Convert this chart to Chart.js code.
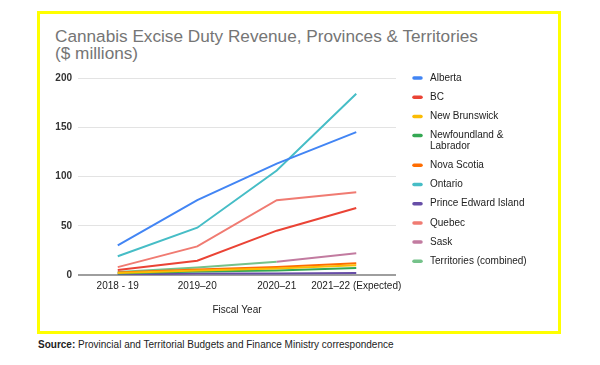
<!DOCTYPE html>
<html>
<head>
<meta charset="utf-8">
<script src="https://cdn.jsdelivr.net/npm/chart.js@4/dist/chart.umd.min.js"></script>
<style>
  html, body { margin: 0; padding: 0; background: #fff; }
  body { width: 600px; height: 365px; position: relative; overflow: hidden; font-family: "Liberation Sans", Arial, sans-serif; }
  #frame { position: absolute; left: 37px; top: 11px; width: 518px; height: 317px; border: 3px solid #ffff00; }
  #title { position: absolute; left: 55px; top: 28px; font-size: 17.2px; line-height: 17px; color: #757575; }
  #source { position: absolute; left: 38px; top: 339px; font-size: 10px; color: #222; }
  canvas { position: absolute; left: 0; top: 0; }
</style>
</head>
<body>
<div id="frame"></div>
<div id="title">Cannabis Excise Duty Revenue, Provinces &amp; Territories<br>($ millions)</div>
<div id="source"><b>Source:</b> Provincial and Territorial Budgets and Finance Ministry correspondence</div>
<canvas id="c" width="600" height="365"></canvas>
<script>
const categories = ["2018 - 19", "2019\u201320", "2020\u201321", "2021\u201322 (Expected)"];
const seriesNames = ["Alberta", "BC", "New Brunswick", ["Newfoundland &", "Labrador"], "Nova Scotia", "Ontario", "Prince Edward Island", "Quebec", "Sask", "Territories (combined)"];
const alberta = [30, 76, 113, 145];
const bc = [5, 14.5, 45, 68];
const newBrunswick = [2, 4.5, 6.5, 10];
const newfoundland = [1.5, 3.5, 4.5, 7];
const novaScotia = [2.5, 5.5, 8, 12];
const ontario = [19, 48, 106, 184];
const pei = [0.5, 1.5, 1.5, 2];
const quebec = [8, 29, 76, 84];
const sask = [null, null, 13.5, 22];
const territories = [3, 7.5, 13.5, null];
const yTicks = [0, 50, 100, 150, 200];
const colors = ["#4285f4", "#ea4335", "#fbbc04", "#34a853", "#ff6d01", "#46bdc6", "#674ea7", "#f07b72", "#c27ba0", "#75c28a"];
const seriesValues = [alberta, bc, newBrunswick, newfoundland, novaScotia, ontario, pei, quebec, sask, territories];

const datasets = seriesValues.map((vals, i) => ({
  label: Array.isArray(seriesNames[i]) ? seriesNames[i].join(' ') : seriesNames[i],
  data: vals,
  borderColor: colors[i],
  backgroundColor: colors[i],
  borderWidth: 2,
  pointRadius: 0,
  tension: 0,
  spanGaps: false
}));

const legendPlugin = {
  id: 'sideLegend',
  afterDraw(chart) {
    const ctx = chart.ctx;
    ctx.save();
    ctx.font = '10px "Liberation Sans", Arial, sans-serif';
    ctx.fillStyle = '#222';
    ctx.textBaseline = 'middle';
    ctx.textAlign = 'left';
    let y = 78;
    seriesNames.forEach((name, i) => {
      const lines = Array.isArray(name) ? name : [name];
      ctx.strokeStyle = colors[i];
      ctx.lineWidth = 3.5;
      ctx.lineCap = 'round';
      ctx.beginPath();
      ctx.moveTo(414, y);
      ctx.lineTo(421, y);
      ctx.stroke();
      lines.forEach((ln, k) => {
        ctx.fillText(ln, 430, y + k * 10.5);
      });
      y += 19.2 + (lines.length - 1) * 10.5;
    });
    ctx.restore();
  }
};

new Chart(document.getElementById('c'), {
  type: 'line',
  data: { labels: categories, datasets },
  options: {
    responsive: false,
    animation: false,
    devicePixelRatio: 1,
    layout: { padding: { left: 0, top: 78, right: 204, bottom: 0 } },
    plugins: { legend: { display: false }, tooltip: { enabled: false } },
    scales: {
      x: {
        offset: true,
        grid: { display: false, drawTicks: false },
        border: { display: false },
        ticks: { color: '#222', font: { family: '"Liberation Sans", Arial, sans-serif', size: 10 }, padding: 5, maxRotation: 0, autoSkip: false },
        title: { display: true, text: 'Fiscal Year', color: '#222', font: { family: '"Liberation Sans", Arial, sans-serif', size: 10 }, padding: { top: 0, bottom: 49 } },
        afterFit(scale) { scale.height = 90; }
      },
      y: {
        min: 0, max: 200,
        afterBuildTicks(scale) { scale.ticks = yTicks.map(v => ({ value: v })); },
        grid: {
          drawTicks: false,
          color: ctx => ctx.tick && ctx.tick.value === 0 ? '#9e9e9e' : '#e3e3e3',
          lineWidth: ctx => ctx.tick && ctx.tick.value === 0 ? 2 : 1
        },
        border: { display: false },
        ticks: { color: '#333', font: { family: '"Liberation Sans", Arial, sans-serif', size: 10, weight: 'bold' }, padding: 6 },
        afterFit(scale) { scale.width = 78; }
      }
    }
  },
  plugins: [legendPlugin]
});
</script>
</body>
</html>
